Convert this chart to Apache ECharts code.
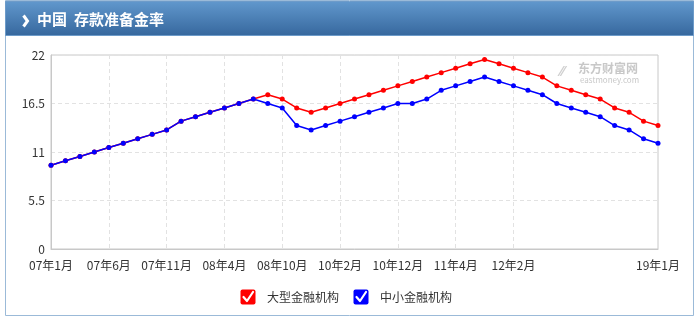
<!DOCTYPE html>
<html>
<head>
<meta charset="utf-8">
<script src="https://cdn.jsdelivr.net/npm/echarts@6/dist/echarts.min.js"></script>
<style>
html,body{margin:0;padding:0;background:#fff;}
#c{width:696px;height:317px;}
</style>
</head>
<body>
<div id="c"></div>
<script>
var categories = ['07年1月','07年2月','07年4月','07年5月','07年6月','07年8月','07年9月','07年10月','07年11月','07年12月',
  '08年1月','08年3月','08年4月','08年5月','08年6月','08年9月','08年10月','08年12月','08年12月下','10年1月',
  '10年2月','10年5月','10年11月','10年11月下','10年12月','11年1月','11年2月','11年3月','11年4月','11年5月',
  '11年6月','11年12月','12年2月','12年5月','15年2月','15年4月','15年9月','15年10月','16年3月','18年4月',
  '18年10月','19年1月上','19年1月'];
var largeInst = [9.5,10,10.5,11,11.5,12,12.5,13,13.5,14.5,
  15,15.5,16,16.5,17,17.5,17,16,15.5,16,
  16.5,17,17.5,18,18.5,19,19.5,20,20.5,21,
  21.5,21,20.5,20,19.5,18.5,18,17.5,17,16,
  15.5,14.5,14];
var smallInst = [9.5,10,10.5,11,11.5,12,12.5,13,13.5,14.5,
  15,15.5,16,16.5,17,16.5,16,14,13.5,14,
  14.5,15,15.5,16,16.5,16.5,17,18,18.5,19,
  19.5,19,18.5,18,17.5,16.5,16,15.5,15,14,
  13.5,12.5,12];
var yTicks = [0,5.5,11,16.5,22];
var shownLabels = [0,4,8,12,16,20,24,28,32,42];
var seriesNames = ['大型金融机构','中小金融机构'];

function checkIcon(color){
  var svg = '<svg xmlns="http://www.w3.org/2000/svg" width="16" height="16" viewBox="0 0 16 16">' +
    '<rect x="0.5" y="0.5" width="15" height="15" rx="2" ry="2" fill="' + color + '"/>' +
    '<path d="M3.5 8 L7 12 L13 3" stroke="#fff" stroke-width="2.2" fill="none" stroke-linecap="round" stroke-linejoin="round"/></svg>';
  return 'image://data:image/svg+xml;charset=utf-8,' + encodeURIComponent(svg);
}

var chart = echarts.init(document.getElementById('c'), null, {renderer:'canvas'});
var FONT = '"Noto Sans CJK SC", "Microsoft YaHei", sans-serif';
chart.setOption({
  animation:false,
  textStyle:{fontFamily:FONT},
  graphic:[
    {type:'rect', shape:{x:5.5,y:0.5,width:688,height:315}, style:{fill:'#fff', stroke:'#9bbad8', lineWidth:1}, z:-10},
    {type:'rect', shape:{x:5.5,y:1.5,width:688,height:34},
      style:{fill:new echarts.graphic.LinearGradient(0,0,0,1,[{offset:0,color:'#6198cd'},{offset:1,color:'#36679d'}]), stroke:'#6d9bc9', lineWidth:1}, z:-9},
    {type:'polyline', shape:{points:[[23.5,15.5],[27.5,21],[23.5,26.5]]}, style:{stroke:'#fff', lineWidth:3, fill:null}, z:10},
    {type:'text', left:37, top:12, style:{text:'中国', fill:'#fff', font:'bold 15px ' + FONT}, z:10},
    {type:'text', left:74, top:12, style:{text:'存款准备金率', fill:'#fff', font:'bold 15px ' + FONT}, z:10},
    {type:'text', left:578, top:62, style:{text:'东方财富网', fill:'#c8c8c8', font:'bold 12px ' + FONT}, z:10},
    {type:'text', left:580, top:76, style:{text:'eastmoney.com', fill:'#c8c8c8', font:'8px ' + FONT}, z:10},
    {type:'text', left:560, top:64, style:{text:'⁄⁄', fill:'#cfcfcf', font:'bold 14px ' + FONT}, z:10}
  ],
  grid:{left:51, right:38, top:55, bottom:68, show:true, borderColor:'#c8c8c8', borderWidth:1, backgroundColor:'#fff'},
  legend:{
    bottom:7, left:235, itemWidth:16, itemHeight:16, itemGap:14,
    textStyle:{color:'#333', fontSize:12, fontFamily:FONT, padding:[0,0,0,6]},
    data:[
      {name:seriesNames[0], icon:checkIcon('#f00')},
      {name:seriesNames[1], icon:checkIcon('#00f')}
    ]
  },
  xAxis:{
    type:'category', data:categories, boundaryGap:false,
    axisLine:{lineStyle:{color:'#c8c8c8'}},
    axisTick:{show:false},
    axisLabel:{color:'#333', fontSize:12, margin:10, fontFamily:FONT,
      interval:function(i){return shownLabels.indexOf(i) >= 0;},
      formatter:function(v){return v.replace('上','').replace('下','');}},
    splitLine:{show:true, interval:function(i){return shownLabels.indexOf(i) >= 0 && i !== 0 && i !== 42;},
      lineStyle:{color:'#e2e2e2', type:[4,3]}}
  },
  yAxis:{
    type:'value', min:yTicks[0], max:yTicks[yTicks.length-1], interval:5.5,
    axisLine:{show:true, lineStyle:{color:'#c8c8c8'}},
    axisTick:{show:false},
    axisLabel:{color:'#333', fontSize:12, margin:6, fontFamily:FONT},
    splitLine:{lineStyle:{color:'#e2e2e2', type:[4,3]}}
  },
  series:[
    {name:seriesNames[0], type:'line', data:largeInst, symbol:'circle', symbolSize:5,
      itemStyle:{color:'#f00'}, lineStyle:{color:'#f00', width:1.5}},
    {name:seriesNames[1], type:'line', data:smallInst, symbol:'circle', symbolSize:5,
      itemStyle:{color:'#00f'}, lineStyle:{color:'#00f', width:1.5}}
  ]
});
</script>
</body>
</html>
